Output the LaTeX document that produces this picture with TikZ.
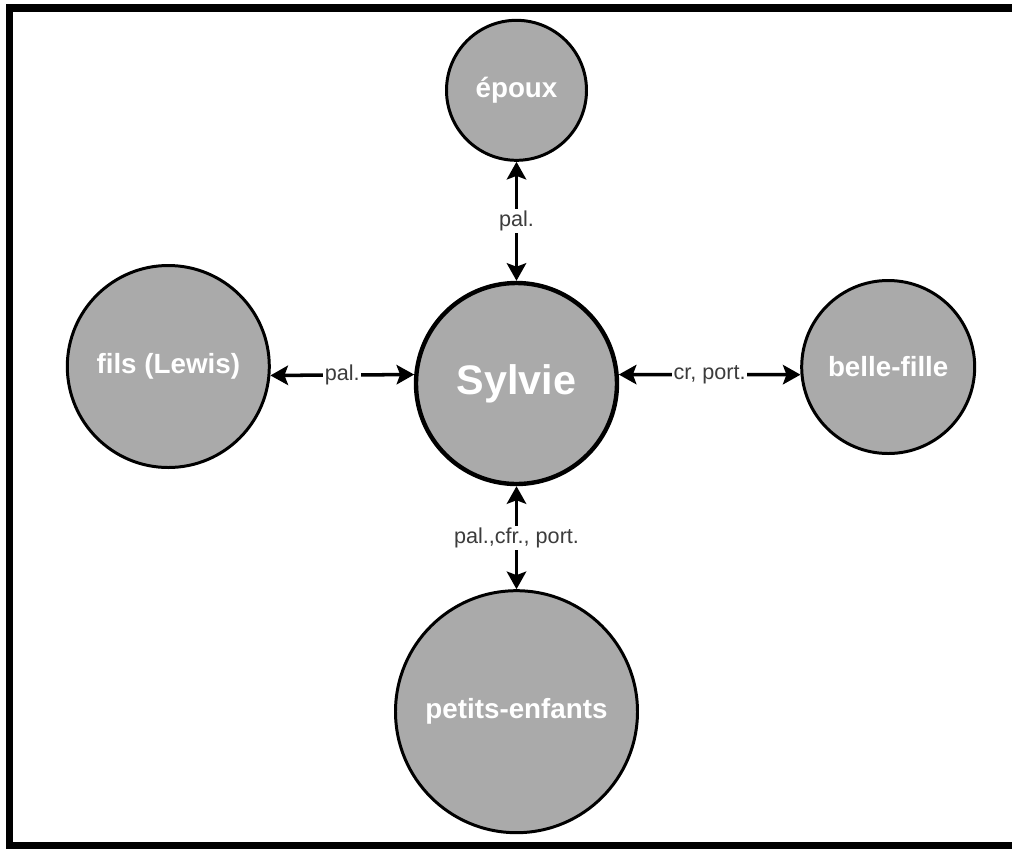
\documentclass[tikz,border=0pt]{standalone}
\usepackage{fontspec}
\setmainfont{Liberation Sans}
\usetikzlibrary{arrows.meta}
\usetikzlibrary{positioning}
\definecolor{nodegray}{RGB}{170,170,170}
\definecolor{labelgray}{RGB}{60,60,60}

\begin{document}
\begin{tikzpicture}[
                person/.style={circle, draw=black, fill=nodegray, line width=1.7pt,
                    text=white, align=center, font=\fontsize{15.8}{18}\selectfont\bfseries},
                main/.style={person, line width=2.5pt, minimum size=4.02cm,
                    font=\fontsize{23.5}{28}\selectfont\bfseries},
                arrow/.style={{Stealth[length=10pt, width=11pt, inset=2pt]}-{Stealth[length=10pt, width=11pt, inset=2pt]},
                    line width=2pt},
                edgelabel/.style={fill=white, inner sep=1pt, text=labelgray,
                    font=\fontsize{12.3}{14}\selectfont},
                frame/.style={draw=black, line width=4pt},
            ]
            \useasboundingbox (-10.33,-9.29) rectangle (9.91,7.67);
            \draw[frame] (-10.14,-9.24) rectangle (10.3,7.51);

            % Nodes
            \node[main] (sylvie) at (0,0) {Sylvie};
            \node[person, minimum size=2.8cm, above=2.38cm of sylvie] (epoux) {époux};
            \node[person, minimum size=4.04cm, left=2.86cm of sylvie, yshift=0.34cm] (fils) {fils (Lewis)};
            \node[person, minimum size=3.46cm, right=3.62cm of sylvie, yshift=0.33cm] (belle) {belle-fille};
            \node[person, minimum size=4.84cm, below=2.06cm of sylvie] (petits) {petits-enfants};

            % Arrows
            \draw[arrow] (epoux) -- node[edgelabel] {pal.} (sylvie);
            \draw[arrow] (fils.355) -- node[edgelabel] {pal.} (sylvie.175);
            \draw[arrow] (sylvie.5) -- node[edgelabel] {cr, port.} (belle.185);
            \draw[arrow] (sylvie) -- node[edgelabel] {pal.,cfr., port.} (petits);

            \end{tikzpicture}
\end{document}
